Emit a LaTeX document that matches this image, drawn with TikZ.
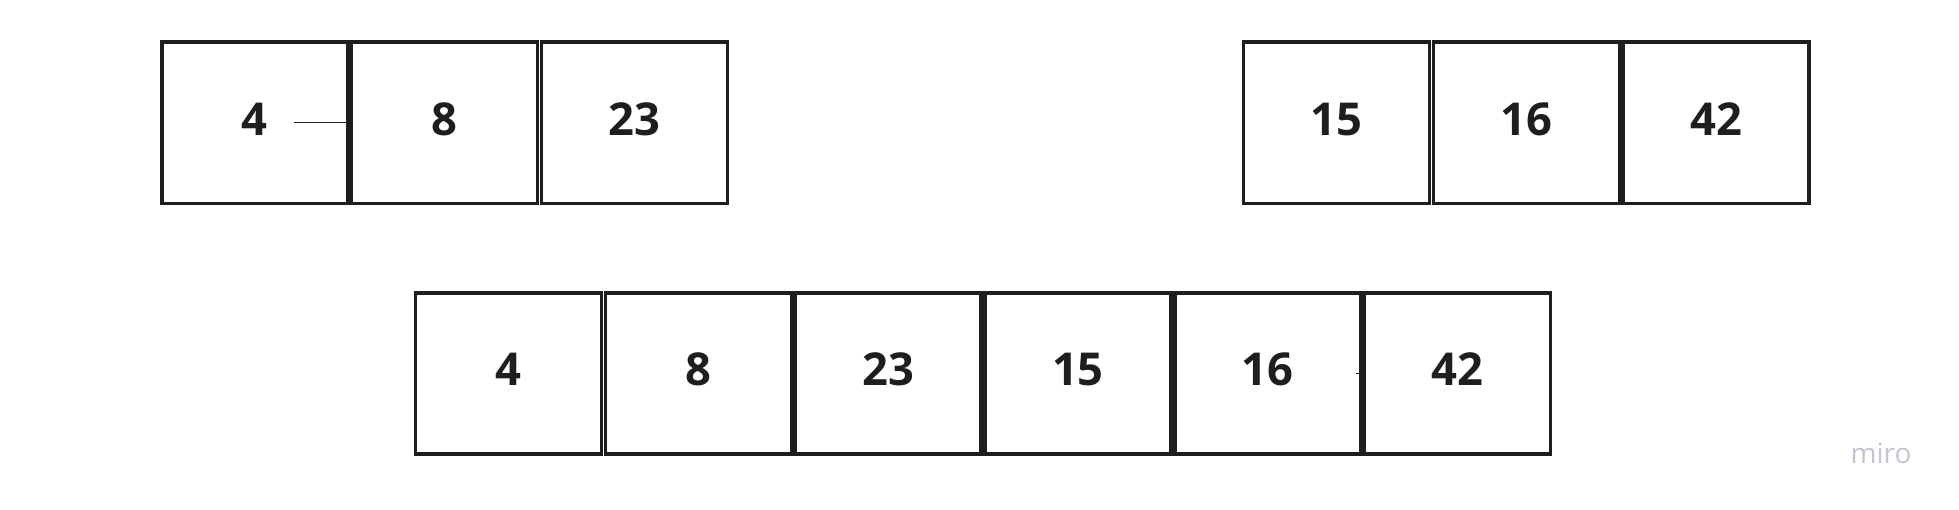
\documentclass[tikz,border=0pt]{standalone}
\usepackage{fontspec}
\setmainfont{Open Sans}
\usetikzlibrary{arrows.meta, positioning}

\definecolor{ink}{HTML}{1E1E1E}
\definecolor{mirogray}{HTML}{C2C4D3}

\begin{document}
\begin{tikzpicture}[x=0.75pt,y=-0.75pt,node distance=142.35pt,on grid,>={Stealth[length=2pt,width=2pt]},
	cell/.style={draw=ink, line width=2.7pt, minimum width=139.5pt, minimum height=120.75pt, inner sep=0pt,
		text=ink, text depth=5.7pt, font=\fontsize{34pt}{36pt}\selectfont\bfseries},
	link/.style={->, draw=ink, line width=0.75pt}]
	
	\useasboundingbox (0,0) rectangle (1959,510);
	
	% left half
	\node (l1) [cell] at (254.7,122.8) {4};
	\node (l2) [cell, right of = l1] {8};
	\node (l3) [cell, right of = l2] {23};
	
	% right half
	\node (r1) [cell] at (1336.5,122.8) {15};
	\node (r2) [cell, right of = r1] {16};
	\node (r3) [cell, right of = r2] {42};
	
	% merged
	\node (m1) [cell] at (508.5,373.2) {4};
	\node (m2) [cell, right of = m1] {8};
	\node (m3) [cell, right of = m2] {23};
	\node (m4) [cell, right of = m3] {15};
	\node (m5) [cell, right of = m4] {16};
	\node (m6) [cell, right of = m5] {42};
	
	\coordinate (s1) at (294,122.3);
	\coordinate (s2) at (1356,373);
	
	\draw [link] (s1) -- (l1.east |- s1);
	\draw [link] (s2) -- (m5.east |- s2);
	
	\node (wm) [anchor=base, text=mirogray, font=\fontsize{21pt}{24pt}\selectfont] at (1881,463) {miro};

\end{tikzpicture}
\end{document}
